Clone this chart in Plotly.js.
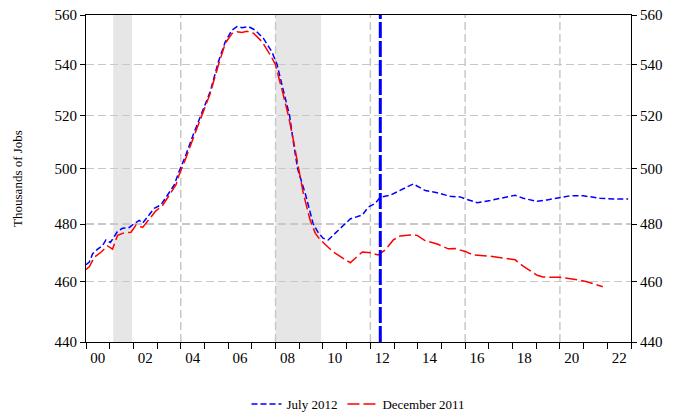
<!DOCTYPE html>
<html>
<head>
<meta charset="utf-8">
<script src="https://cdn.plot.ly/plotly-3.0.1.min.js"></script>
<style>html,body{margin:0;padding:0;background:#fff;}#chart{width:673px;height:419px;}</style>
</head>
<body>
<div id="chart"></div>
<script>
// ---- data ----
const blueName = "July 2012";
const blueYears = [2000.0,2000.14,2000.28,2000.49,2000.69,2000.84,2001.03,2001.33,2001.54,2001.83,2002.04,2002.25,2002.39,2002.67,2002.88,2003.16,2003.44,2003.73,2003.91,2004.19,2004.54,2004.89,2005.24,2005.59,2005.88,2006.16,2006.37,2006.58,2006.86,2007.14,2007.49,2007.85,2008.06,2008.32,2008.59,2008.75,2008.93,2009.25,2009.42,2009.59,2009.80,2010.0,2010.22,2010.51,2010.86,2011.15,2011.66,2011.91,2012.21,2012.42,2012.84,2013.26,2013.81,2014.32,2014.82,2015.37,2015.79,2016.0,2016.51,2017.06,2017.61,2018.11,2018.45,2019.04,2019.46,2020.01,2020.43,2020.98,2021.70,2022.25,2022.88];
const blueValues = [465.8,466.7,469.6,471.2,472.3,474.4,473.5,477.4,478.5,478.8,480.2,481.3,480.3,483.2,485.6,486.8,490.4,494.1,498.6,504.5,513.0,521.4,529.2,541.1,549.1,553.8,555.2,554.8,555.2,553.8,550.4,544.9,540.0,530.0,520.0,510.0,500.0,491.0,485.0,480.0,477.0,475.0,474.4,476.8,479.6,481.8,483.2,486.0,487.4,489.6,490.3,492.2,494.4,492.0,491.2,489.9,489.7,489.0,487.6,488.4,489.4,490.3,489.2,488.1,488.6,489.6,490.1,490.1,489.2,488.9,488.9];

const redName = "December 2011";
const redYears = [2000.0,2000.14,2000.35,2000.63,2000.91,2001.12,2001.33,2001.62,2001.90,2002.11,2002.39,2002.67,2002.95,2003.23,2003.51,2003.80,2003.91,2004.19,2004.54,2004.89,2005.24,2005.59,2005.88,2006.16,2006.37,2006.58,2006.79,2007.07,2007.43,2007.78,2007.99,2008.27,2008.54,2008.75,2008.96,2009.17,2009.46,2009.68,2009.89,2010.44,2010.82,2011.15,2011.66,2012.0,2012.33,2012.63,2012.97,2013.26,2013.68,2013.98,2014.32,2014.82,2015.29,2015.58,2016.0,2016.34,2016.98,2017.61,2018.11,2018.45,2018.75,2019.04,2019.29,2020.01,2020.73,2021.14,2021.81];
const redValues = [464.2,465.1,468.4,470.1,472.3,471.2,476.0,476.9,477.1,479.6,478.8,481.7,484.7,486.6,490.1,494.1,497.3,503.3,511.7,520.4,528.5,539.8,548.5,552.4,553.1,552.8,553.3,552.5,549.1,543.7,540.0,530.0,520.0,510.7,500.0,491.0,481.3,476.7,474.4,470.2,468.2,466.5,470.2,469.9,469.2,470.9,474.4,475.8,476.1,476.0,474.1,473.0,471.3,471.4,470.4,469.2,468.8,468.2,467.5,465.3,463.6,462.2,461.6,461.5,460.7,460.0,458.3];

const recessionStarts = [2001.15, 2008.0];
const recessionEnds = [2001.94, 2009.92];
const vintageLine = 2012.42;
const gridYears = [2004, 2008, 2012, 2016, 2020];
const yTicks = [440, 460, 480, 500, 520, 540, 560];
const xLabelYears = [2000,2002,2004,2006,2008,2010,2012,2014,2016,2018,2020,2022];
const xLabels = xLabelYears.map(y => String(y % 100).padStart(2, "0"));
const yearTicks = [];
for (let y = 2000; y <= 2023; y++) yearTicks.push(y);

// ---- styling ----
const FONT = "Liberation Serif";
const gridColor = "#c8c8c8";
const yRange = [Math.log10(440), Math.log10(560)];

const traces = [
  {x: blueYears, y: blueValues, type: "scatter", mode: "lines", name: blueName,
   line: {color: "#0000ff", width: 1.5, dash: "6px,3px"}},
  {x: redYears, y: redValues, type: "scatter", mode: "lines", name: redName,
   line: {color: "#ff0000", width: 1.5, dash: "12px,4px"}},
  {x: [2000], y: [500], yaxis: "y2", type: "scatter", mode: "markers",
   marker: {opacity: 0}, showlegend: false, hoverinfo: "skip"}
];

const shapes = [];
recessionStarts.forEach((s, i) => shapes.push({type: "rect", xref: "x", yref: "paper",
  x0: s, x1: recessionEnds[i], y0: 0, y1: 1, fillcolor: "#e6e6e6", line: {width: 0}, layer: "below"}));
gridYears.forEach(g => shapes.push({type: "line", xref: "x", yref: "paper", x0: g, x1: g, y0: 0, y1: 1,
  line: {color: gridColor, width: 1.5, dash: "8px,4px"}, layer: "below"}));
shapes.push({type: "line", xref: "x", yref: "paper", x0: vintageLine, x1: vintageLine, y0: 0, y1: 1,
  line: {color: "#0000ff", width: 3, dash: "16px,3px"}, layer: "above"});

const tickFont = {size: 15, color: "#000", family: FONT};

const layout = {
  width: 673, height: 419,
  margin: {l: 86, r: 42, t: 15, b: 77, autoexpand: false},
  paper_bgcolor: "#ffffff", plot_bgcolor: "rgba(0,0,0,0)",
  font: {family: FONT, size: 14, color: "#000"},
  showlegend: true,
  legend: {orientation: "h", x: 0.5, xanchor: "center", y: -0.19, yanchor: "middle",
    font: {family: FONT, size: 13, color: "#000"}, itemwidth: 30, tracegroupgap: 0},
  xaxis: {range: [2000, 2023], tickmode: "array", tickvals: xLabelYears.map(y => y + 0.5), ticktext: xLabels,
    ticks: "", showgrid: false, zeroline: false, showline: true, linecolor: "#000", linewidth: 1, mirror: true,
    ticklabelstandoff: 2,
    minor: {tickmode: "array", tickvals: yearTicks, ticks: "outside", ticklen: 6, tickcolor: "#000", tickwidth: 1, showgrid: false},
    tickfont: tickFont},
  yaxis: {type: "log", range: yRange, tickmode: "array", tickvals: yTicks, ticktext: yTicks.map(String),
    ticks: "outside", ticklen: 5, tickcolor: "#000", showline: true, linecolor: "#000", linewidth: 1,
    showgrid: true, gridcolor: gridColor, gridwidth: 1.5, griddash: "8px,4px", zeroline: false,
    tickfont: tickFont,
    title: {text: "Thousands of Jobs", font: {family: FONT, size: 13, color: "#000"}, standoff: 28}},
  yaxis2: {type: "log", range: yRange, overlaying: "y", side: "right", tickmode: "array", tickvals: yTicks,
    ticktext: yTicks.map(String), ticks: "outside", ticklen: 5, tickcolor: "#000", showline: true,
    linecolor: "#000", linewidth: 1, showgrid: false, zeroline: false,
    tickfont: tickFont},
  shapes: shapes
};

Plotly.newPlot("chart", traces, layout, {displayModeBar: false, staticPlot: true});
</script>
</body>
</html>
